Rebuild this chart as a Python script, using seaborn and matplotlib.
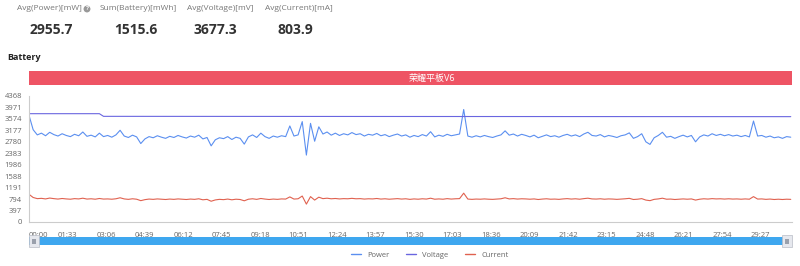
import matplotlib
matplotlib.use("Agg")
import matplotlib.pyplot as plt
import seaborn as sns
import pandas as pd
from matplotlib.patches import Rectangle
from matplotlib.lines import Line2D

# ---------------- data ----------------
stat_labels = ["Avg(Power)[mW]", "Sum(Battery)[mWh]", "Avg(Voltage)[mV]", "Avg(Current)[mA]"]
stat_values = ["2955.7", "1515.6", "3677.3", "803.9"]
section_title = "Battery"
device_name = "荣耀平板V6"
series_names = ["Power", "Voltage", "Current"]

sample_step_s = 10
power = [
    3700, 3200, 3020, 3080, 2990, 3110, 3030, 2980, 3060, 3000,
    2960, 3040, 2990, 3120, 2970, 3010, 2950, 3080, 2960, 3000,
    2940, 3020, 3180, 2980, 2930, 3010, 2950, 2720, 2880, 2960,
    2920, 2990, 2940, 2900, 2970, 2930, 3000, 2950, 2910, 2980,
    2940, 3010, 2880, 2930, 2640, 2850, 2920, 2890, 2960, 2860,
    2940, 2900, 2700, 2950, 3020, 2930, 3080, 2960, 2900, 2980,
    2940, 2990, 2960, 3330, 2980, 3020, 3480, 2320, 3420, 2800,
    3300, 3050, 3120, 3010, 3080, 3000, 3060, 3020, 3100, 3030,
    3060, 2980, 3040, 3010, 3070, 2990, 3030, 2960, 3010, 3050,
    2980, 3020, 2940, 3000, 2960, 3030, 2980, 3130, 2950, 3010,
    2970, 3040, 2990, 3020, 3050, 3900, 2980, 2940, 2990, 2950,
    3000, 2960, 2930, 2980, 3020, 3160, 3010, 3050, 2980, 3040,
    3000, 2950, 3010, 2920, 2970, 3020, 2960, 2990, 2940, 3000,
    3040, 2980, 3020, 2960, 3050, 3110, 3000, 2980, 3030, 2950,
    3000, 2970, 2930, 2990, 3020, 3090, 2900, 2960, 3060, 2780,
    2690, 2920, 3000, 3110, 2940, 2970, 2900, 2960, 3010, 2950,
    3000, 2780, 2950, 3020, 2980, 3060, 3000, 3040, 2990, 3030,
    2980, 3010, 2960, 3000, 2950, 3500, 2980, 3000, 2940, 2980,
    2920, 2950, 2900, 2960, 2940,
]
current = [
    960, 850, 810, 820, 800, 830, 810, 795, 815, 800,
    790, 810, 800, 825, 795, 805, 790, 815, 795, 800,
    790, 805, 840, 800, 785, 805, 790, 740, 775, 795,
    785, 800, 790, 780, 795, 785, 800, 790, 780, 795,
    785, 805, 770, 785, 720, 765, 785, 775, 795, 770,
    790, 780, 735, 790, 805, 785, 815, 795, 780, 795,
    785, 800, 795, 870, 795, 805, 900, 620, 880, 760,
    860, 810, 825, 805, 815, 800, 810, 805, 820, 805,
    810, 795, 805, 800, 815, 795, 805, 790, 800, 810,
    795, 805, 785, 800, 790, 805, 795, 825, 790, 800,
    790, 810, 795, 805, 810, 1000, 795, 785, 795, 790,
    800, 790, 785, 795, 805, 840, 800, 810, 795, 805,
    800, 790, 800, 780, 795, 805, 790, 795, 785, 800,
    810, 795, 805, 790, 810, 825, 800, 795, 805, 790,
    800, 795, 785, 795, 805, 820, 780, 790, 810, 760,
    740, 785, 800, 825, 790, 795, 780, 790, 800, 790,
    800, 760, 790, 805, 795, 810, 800, 805, 795, 805,
    795, 800, 790, 800, 790, 880, 795, 800, 785, 795,
    780, 790, 780, 790, 785,
]
voltage_times = [0, 170, 180, 600, 1200, 1840]
voltage = [3755, 3755, 3663, 3660, 3656, 3652]

y_ticks = [0, 397, 794, 1191, 1588, 1986, 2383, 2780, 3177, 3574, 3971, 4368]
x_tick_labels = ["00:00", "01:33", "03:06", "04:39", "06:12", "07:45", "09:18",
                 "10:51", "12:24", "13:57", "15:30", "17:03", "18:36", "20:09",
                 "21:42", "23:15", "24:48", "26:21", "27:54", "29:27"]
x_tick_step_s = 93
x_max_s = 1843

colors = {"Power": "#5b8ff0", "Voltage": "#6a66e0", "Current": "#e0614f"}

# ---------------- build frames ----------------
times = [i * sample_step_s for i in range(len(power))]
df = pd.concat([
    pd.DataFrame({"t": times, "value": power, "series": "Power"}),
    pd.DataFrame({"t": voltage_times, "value": voltage, "series": "Voltage"}),
    pd.DataFrame({"t": times, "value": current, "series": "Current"}),
], ignore_index=True)

sns.set_theme(style="white")
plt.rcParams["font.family"] = ["Open Sans", "Noto Sans CJK SC", "DejaVu Sans"]

W, H = 800, 266
fig = plt.figure(figsize=(8, 2.66), dpi=100)

def fx(px):
    return px / W

def fy(py):
    return 1 - py / H

ax = fig.add_axes([fx(29), fy(222), fx(792) - fx(29), fy(96) - fy(222)])
for name in series_names:
    sub = df[df["series"] == name]
    sns.lineplot(data=sub, x="t", y="value", ax=ax, color=colors[name],
                 linewidth=0.8, legend=False, estimator=None, sort=False)

ax.set_xlim(0, x_max_s)
ax.set_ylim(0, y_ticks[-1])
ax.set_yticks(y_ticks)
ax.set_yticklabels([str(v) for v in y_ticks])
ax.set_xticks([i * x_tick_step_s for i in range(len(x_tick_labels))])
ax.set_xticklabels(x_tick_labels)
ax.get_xticklabels()[0].set_horizontalalignment("left")
ax.set_xlabel("")
ax.set_ylabel("")
ax.grid(False)
for s in ["top", "right"]:
    ax.spines[s].set_visible(False)
for s in ["left", "bottom"]:
    ax.spines[s].set_color("#cccccc")
    ax.spines[s].set_linewidth(0.8)
ax.tick_params(axis="both", which="both", labelsize=5.5, colors="#cccccc",
               labelcolor="#666666", length=3, width=0.6, pad=2)
ax.tick_params(axis="x", pad=4)

# ---------------- title bar ----------------
fig.patches.append(Rectangle((fx(29), fy(85)), fx(792) - fx(29), fy(71) - fy(85),
                             transform=fig.transFigure, facecolor="#ee5464",
                             edgecolor="none"))
fig.text(fx(432), fy(78), device_name, color="white", fontsize=6.5,
         ha="center", va="center")

# ---------------- slider ----------------
fig.patches.append(Rectangle((fx(29), fy(245)), fx(792) - fx(29), fy(237) - fy(245),
                             transform=fig.transFigure, facecolor="#3ea7ef",
                             edgecolor="none"))
for hx in (29, 782):
    fig.patches.append(Rectangle((fx(hx), fy(247)), fx(10), fy(235) - fy(247),
                                 transform=fig.transFigure, facecolor="#e6e8ee",
                                 edgecolor="#b8bcc6", linewidth=0.5))
    fig.patches.append(Rectangle((fx(hx + 3), fy(243.5)), fx(4), fy(238.5) - fy(243.5),
                                 transform=fig.transFigure, facecolor="#9aa0ac",
                                 edgecolor="none"))

# ---------------- legend ----------------
handles = [Line2D([0], [0], color=colors[n], linewidth=1.0) for n in series_names]
fig.legend(handles, series_names, loc="center", bbox_to_anchor=(fx(430), fy(255)),
           ncol=3, frameon=False, fontsize=5.5, handlelength=1.3,
           handletextpad=0.8, columnspacing=2.2, labelcolor="#666666")

# ---------------- header stats ----------------
label_x = [17, 100, 187, 265]
value_x = [51, 136, 215, 295]
for lx, lab in zip(label_x, stat_labels):
    fig.text(fx(lx), fy(9), lab, fontsize=6, color="#777777", ha="left", va="center")
fig.text(fx(87), fy(9), "?", fontsize=4.5, color="white", ha="center", va="center",
         fontweight="bold",
         bbox=dict(boxstyle="circle,pad=0.15", facecolor="#999999", edgecolor="none"))
for vx, val in zip(value_x, stat_values):
    fig.text(fx(vx), fy(30), val, fontsize=10, color="#333333", ha="center",
             va="center", fontweight="bold")
fig.text(fx(7), fy(58), section_title, fontsize=6.5, color="#222222", ha="left",
         va="center", fontweight="bold")

fig.savefig("out.png", dpi=100, facecolor="white")
